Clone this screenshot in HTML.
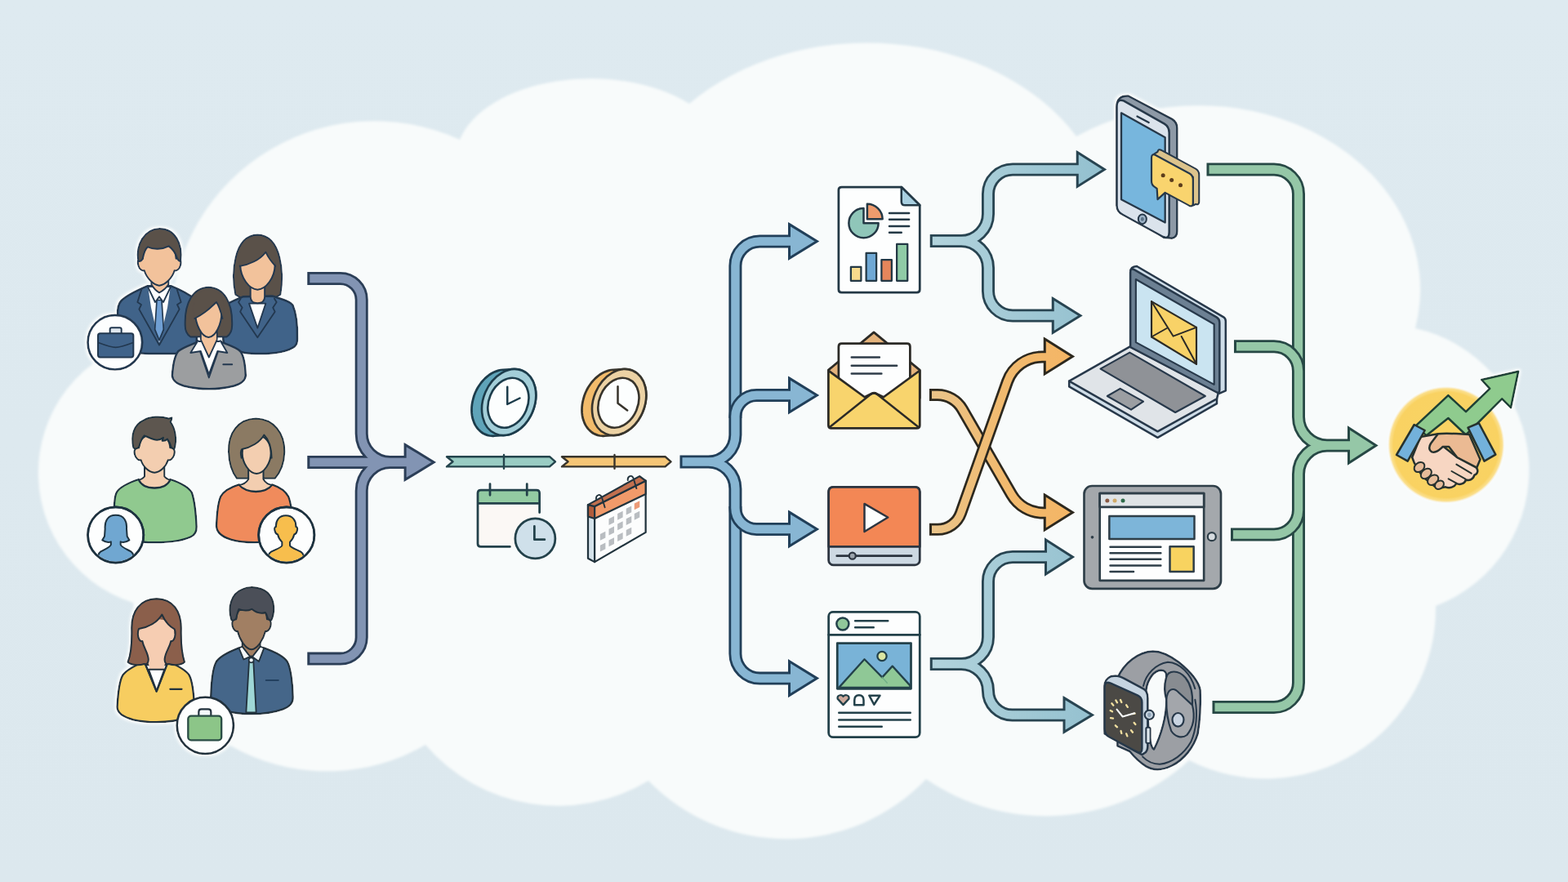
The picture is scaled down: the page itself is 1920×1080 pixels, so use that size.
<!DOCTYPE html>
<html lang="en"><head><meta charset="utf-8"><title>Workflow diagram</title>
<style>
html,body{margin:0;padding:0;background:#dde9ef;font-family:"Liberation Sans",sans-serif}
body{width:1920px;height:1080px;overflow:hidden}
svg{display:block}
</style></head><body>
<svg width="1920" height="1080" viewBox="0 0 1920 1080" role="img" aria-label="Workflow diagram: teams feed a schedule, content is distributed to devices and ends in a deal">
<defs><filter id="halo" x="-10%" y="-10%" width="120%" height="120%"><feMorphology in="SourceAlpha" operator="dilate" radius="2.2" result="d"/><feGaussianBlur in="d" stdDeviation="1.6" result="b"/><feFlood flood-color="#f9fcfc" result="c"/><feComposite in="c" in2="b" operator="in" result="g"/><feMerge><feMergeNode in="g"/><feMergeNode in="SourceGraphic"/></feMerge></filter></defs>
<defs>
<linearGradient id="bgG" x1="0" y1="0" x2="0" y2="1"><stop offset="0" stop-color="#deeaf0"/><stop offset="1" stop-color="#dce8ee"/></linearGradient>
<filter id="soft" x="-5%" y="-5%" width="110%" height="110%"><feGaussianBlur stdDeviation="1.6"/></filter>
</defs>
<rect width="1920" height="1080" fill="url(#bgG)"/>
<path id="cloud" d="M163 738A167 167 0 0 1 209 412A250 250 0 0 1 563 171A165 97 0 0 1 844 127A296 230 0 0 1 1318 167A271 225 0 0 1 1733 402A178 178 0 0 1 1758 742A208 208 0 0 1 1456 931A260 260 0 0 1 1134 954A236 236 0 0 1 794 956A214 214 0 0 1 521 912A240 240 0 0 1 163 738Z" fill="#f8fbfb" filter="url(#soft)"/>
<defs><linearGradient id="tealG" gradientUnits="userSpaceOnUse" x1="1138" y1="0" x2="1350" y2="0"><stop offset="0" stop-color="#b2d3dc"/><stop offset="1" stop-color="#93c0cf"/></linearGradient><linearGradient id="oraG" gradientUnits="userSpaceOnUse" x1="1138" y1="0" x2="1316" y2="0"><stop offset="0" stop-color="#e9c48a"/><stop offset="0.5" stop-color="#f1ba6f"/><stop offset="1" stop-color="#f4b565"/></linearGradient></defs>
<g id="pipe-purple" fill="none" stroke-linejoin="round">
<path d="M376.3 341 H416.5 A26 26 0 0 1 442.7 367 V531 A35 35 0 0 0 477.7 566 H499 M376.3 566 H499 M376.3 806.6 H416.5 A26 26 0 0 0 442.7 780.6 V601 A35 35 0 0 1 477.7 566 H499" stroke="#2b3e57" stroke-width="16"/>
<path d="M496.1 544.6 L531.15 566 L496.1 587.4Z" fill="#8294b3" stroke="#2b3e57" stroke-width="3" stroke-linejoin="miter"/>
<path d="M379.3 341 H416.5 A26 26 0 0 1 442.7 367 V531 A35 35 0 0 0 477.7 566 H499 M379.3 566 H499 M379.3 806.6 H416.5 A26 26 0 0 0 442.7 780.6 V601 A35 35 0 0 1 477.7 566 H499" stroke="#8294b3" stroke-width="10.4"/>
</g>
<g id="pipe-blue-trunk" fill="none" stroke-linejoin="round">
<path d="M969 295.5 H930.4 A30 30 0 0 0 900.4 325.5 V512 M969 830.6 H930.4 A30 30 0 0 1 900.4 800.6 V620" stroke="#213f59" stroke-width="16"/>
<path d="M966.5 274.6 L1000.4 295.5 L966.5 316.4Z" fill="#88b6d3" stroke="#213f59" stroke-width="3" stroke-linejoin="miter"/>
<path d="M966.5 809.7 L1000.4 830.6 L966.5 851.5Z" fill="#88b6d3" stroke="#213f59" stroke-width="3" stroke-linejoin="miter"/>
<path d="M969 295.5 H930.4 A30 30 0 0 0 900.4 325.5 V512 M969 830.6 H930.4 A30 30 0 0 1 900.4 800.6 V620" stroke="#88b6d3" stroke-width="10.4"/>
</g>
<g id="pipe-blue-mid" fill="none" stroke-linejoin="round">
<path d="M832.5 565.5 H867.4 A33 33 0 0 0 900.4 532.5 V510 A26 26 0 0 1 926.4 484 H969 M832.5 565.5 H867.4 A33 33 0 0 1 900.4 598.5 V622 A26 26 0 0 0 926.4 648 H969" stroke="#213f59" stroke-width="16"/>
<path d="M966.5 463.1 L1000.4 484 L966.5 504.9Z" fill="#88b6d3" stroke="#213f59" stroke-width="3" stroke-linejoin="miter"/>
<path d="M966.5 627.1 L1000.4 648 L966.5 668.9Z" fill="#88b6d3" stroke="#213f59" stroke-width="3" stroke-linejoin="miter"/>
<path d="M835.5 565.5 H867.4 A33 33 0 0 0 900.4 532.5 V510 A26 26 0 0 1 926.4 484 H969 M835.5 565.5 H867.4 A33 33 0 0 1 900.4 598.5 V622 A26 26 0 0 0 926.4 648 H969" stroke="#88b6d3" stroke-width="10.4"/>
</g>
<g id="pipe-teal" fill="none" stroke-linejoin="round">
<path d="M1138.75 295 H1177 A33 33 0 0 0 1210 262 V237.5 A30 30 0 0 1 1240 207.5 H1322 M1138.75 295 H1177 A33 33 0 0 1 1210 328 V356.5 A30 30 0 0 0 1240 386.5 H1292 M1138.75 813 H1177 A33 33 0 0 0 1210 780 V712 A30 30 0 0 1 1240 682 H1283 M1138.75 813 H1177 A33 33 0 0 1 1210 846 V846 A29.5 29.5 0 0 0 1239.5 875.5 H1306" stroke="#284451" stroke-width="16"/>
<path d="M1319.25 186.6 L1352.4 207.5 L1319.25 228.4Z" fill="url(#tealG)" stroke="#284451" stroke-width="3" stroke-linejoin="miter"/>
<path d="M1289.25 365.6 L1322.9 386.5 L1289.25 407.4Z" fill="url(#tealG)" stroke="#284451" stroke-width="3" stroke-linejoin="miter"/>
<path d="M1280.5 661.1 L1313.4 682 L1280.5 702.9Z" fill="url(#tealG)" stroke="#284451" stroke-width="3" stroke-linejoin="miter"/>
<path d="M1303 854.6 L1337.4 875.5 L1303 896.4Z" fill="url(#tealG)" stroke="#284451" stroke-width="3" stroke-linejoin="miter"/>
<path d="M1141.75 295 H1177 A33 33 0 0 0 1210 262 V237.5 A30 30 0 0 1 1240 207.5 H1322 M1141.75 295 H1177 A33 33 0 0 1 1210 328 V356.5 A30 30 0 0 0 1240 386.5 H1292 M1141.75 813 H1177 A33 33 0 0 0 1210 780 V712 A30 30 0 0 1 1240 682 H1283 M1141.75 813 H1177 A33 33 0 0 1 1210 846 V846 A29.5 29.5 0 0 0 1239.5 875.5 H1306" stroke="url(#tealG)" stroke-width="10.4"/>
</g>
<g id="pipe-orangeA" fill="none" stroke-linejoin="round">
<path d="M1138 483.5 H1148.0 A35 35 0 0 1 1178.3 501.0 L1238.6 605.5 A45 45 0 0 0 1277.6 628.0 H1282.0" stroke="#2c281e" stroke-width="15"/>
<path d="M1279.25 606.1 L1313.4 627.5 L1279.25 648.9Z" fill="url(#oraG)" stroke="#2c281e" stroke-width="3" stroke-linejoin="miter"/>
<path d="M1141 483.5 H1148.0 A35 35 0 0 1 1178.3 501.0 L1238.6 605.5 A45 45 0 0 0 1277.6 628.0 H1282.0" stroke="url(#oraG)" stroke-width="9.6"/>
</g>
<g id="pipe-orangeB" fill="none" stroke-linejoin="round">
<path d="M1138 648.3 H1148.2 A30 30 0 0 0 1176.5 628.3 L1233.6 467.0 A45 45 0 0 1 1276.0 437.0 H1282.0" stroke="#2c281e" stroke-width="15"/>
<path d="M1279.25 415.1 L1313.4 436.5 L1279.25 457.9Z" fill="url(#oraG)" stroke="#2c281e" stroke-width="3" stroke-linejoin="miter"/>
<path d="M1141 648.3 H1148.2 A30 30 0 0 0 1176.5 628.3 L1233.6 467.0 A45 45 0 0 1 1276.0 437.0 H1282.0" stroke="url(#oraG)" stroke-width="9.6"/>
</g>
<g id="pipe-green-trunk" fill="none" stroke-linejoin="round">
<path d="M1477.5 207.5 H1560 A30 30 0 0 1 1590 237.5 V460 M1484.5 866 H1560 A30 30 0 0 0 1590 836 V620" stroke="#274845" stroke-width="16"/>
<path d="M1480.5 207.5 H1560 A30 30 0 0 1 1590 237.5 V460 M1487.5 866 H1560 A30 30 0 0 0 1590 836 V620" stroke="#95c7a7" stroke-width="10.4"/>
</g>
<g id="pipe-green-mid" fill="none" stroke-linejoin="round">
<path d="M1511 424.3 H1560 A30 30 0 0 1 1590 454.3 V510.5 A35 35 0 0 0 1625 545.5 H1654 M1507 654.5 H1560 A30 30 0 0 0 1590 624.5 V580.5 A35 35 0 0 1 1625 545.5 H1654" stroke="#274845" stroke-width="16"/>
<path d="M1651.5 524.1 L1684.9 545.5 L1651.5 566.9Z" fill="#95c7a7" stroke="#274845" stroke-width="3" stroke-linejoin="miter"/>
<path d="M1514 424.3 H1560 A30 30 0 0 1 1590 454.3 V510.5 A35 35 0 0 0 1625 545.5 H1654 M1510 654.5 H1560 A30 30 0 0 0 1590 624.5 V580.5 A35 35 0 0 1 1625 545.5 H1654" stroke="#95c7a7" stroke-width="10.4"/>
</g>
<g filter="url(#halo)">
<g id="people-business" transform="translate(90,270) scale(0.166667)" stroke="#22374f" stroke-width="15" stroke-linejoin="round" stroke-linecap="round">
<!-- man in suit -->
<path d="M540 482C470 512 385 555 352 588C326 614 322 650 325 700L328 880C335 930 400 962 500 975C540 978 590 978 630 978L905 978L905 585C860 550 785 508 720 482Z" fill="#416389"/>
<path d="M548 492L630 560L712 492L690 640L630 900L570 640Z" fill="#fdfefe" stroke="none"/>
<path d="M612 585L648 585L662 800L630 880L598 800Z" fill="#6f9fd3" stroke-width="10"/>
<path d="M548 492L600 600L630 560L660 600L712 492" fill="#fdfefe" stroke-width="11"/>
<path d="M500 505L470 600L498 618L482 652L630 915L778 652L762 618L790 600L760 505" fill="none" stroke-width="11"/>
<path d="M572 410L572 470C590 500 610 520 630 530C655 518 680 498 698 470L698 410Z" fill="#f2c29b" stroke-width="12"/>
<path d="M508 280C480 270 466 295 476 330C484 360 505 372 520 368C535 420 585 475 630 478C675 475 728 420 742 368C757 372 778 360 786 330C796 295 782 270 754 280C750 200 700 160 630 160C560 160 512 200 508 280Z" fill="#f2c29b" stroke-width="12"/>
<path d="M476 300C455 180 520 62 632 60C745 60 805 170 786 300C772 296 762 282 756 262C745 232 726 208 700 188C650 214 585 214 546 194C522 214 514 250 508 282C498 298 488 302 476 300Z" fill="#5a5149" stroke-width="12"/>
<!-- woman long hair -->
<path d="M1190 545C1160 400 1170 110 1352 105C1535 110 1545 400 1520 545C1450 600 1260 600 1190 545Z" fill="#5a5149" stroke-width="12"/>
<path d="M1245 560C1180 585 1130 605 1108 630C1092 655 1096 700 1098 760L1100 880C1105 930 1160 955 1260 972C1300 978 1340 978 1372 978C1460 978 1570 965 1625 925C1640 912 1644 890 1644 870C1646 790 1640 690 1610 620C1590 590 1520 575 1460 555Z" fill="#416389"/>
<path d="M1290 610L1412 610L1352 790Z" fill="#fdfefe" stroke-width="11"/>
<path d="M1228 575L1212 600L1240 640L1225 670L1352 860L1480 670L1465 640L1492 600L1476 575" fill="none" stroke-width="11"/>
<path d="M1300 470L1300 560C1300 590 1320 608 1352 608C1385 608 1405 590 1405 560L1405 470Z" fill="#f2c29b" stroke-width="12"/>
<path d="M1225 330C1228 420 1290 505 1352 508C1415 505 1478 420 1480 330C1482 240 1440 190 1352 190C1265 190 1222 240 1225 330Z" fill="#f2c29b" stroke-width="12"/>
<path d="M1222 335C1200 230 1240 125 1352 120C1465 125 1505 230 1484 335C1460 310 1430 270 1412 232C1370 290 1290 325 1222 335Z" fill="#5a5149" stroke="none"/><path d="M1222 335C1290 325 1370 290 1412 232C1430 270 1460 310 1484 335" fill="none" stroke-width="11"/>
</g>
<g id="people-business-2" transform="translate(90,380) scale(0.166667)" stroke="#22374f" stroke-width="15" stroke-linejoin="round" stroke-linecap="round">
<!-- middle woman: hair back, body, face, hair front -->
<path d="M820 110C815 -60 880 -168 992 -170C1105 -168 1170 -60 1165 110C1165 150 1150 180 1125 195L860 195C835 180 820 150 820 110Z" fill="#5a5149" stroke-width="12"/>
<path d="M725 480C730 400 745 330 770 300C800 275 850 258 905 235L1090 235C1150 258 1200 275 1225 300C1250 330 1262 400 1265 480C1262 520 1230 540 1180 555C1110 572 1050 578 995 578C940 578 880 572 810 555C760 540 728 520 725 480Z" fill="#9c9ea0"/>
<path d="M905 228L995 495L1088 228Z" fill="#fdfefe" stroke-width="11"/>
<path d="M935 150L935 215L995 345L1055 215L1055 150Z" fill="#f2c29b" stroke-width="11"/>
<path d="M915 222L860 312L935 300L995 470M1078 222L1130 312L1058 300L995 470" fill="#fdfefe" stroke-width="11"/>
<path d="M1100 398L1165 398" fill="none" stroke-width="12"/>
<path d="M895 20C895 100 940 195 992 198C1045 195 1088 100 1088 20C1088 -40 1050 -80 992 -80C935 -80 895 -40 895 20Z" fill="#f2c29b" stroke-width="12"/>
<path d="M890 60C862 -50 900 -150 992 -155C1090 -150 1128 -50 1095 60C1085 20 1070 -30 1050 -60C1000 -10 950 30 890 60Z" fill="#5a5149" stroke="none"/><path d="M890 60C950 30 1000 -10 1050 -60C1070 -30 1085 20 1095 60" fill="none" stroke-width="11"/>
<!-- briefcase badge -->
<circle cx="305" cy="235" r="200" fill="#fdfefe" stroke-width="16"/>
<path d="M268 170L268 140Q268 128 280 128L340 128Q352 128 352 140L352 170" fill="#dfe7ee" stroke-width="12"/>
<rect x="180" y="170" width="260" height="175" rx="16" fill="#41648a" stroke-width="12"/>
<path d="M186 238C250 262 290 272 310 272C330 272 370 262 434 238" fill="none" stroke-width="10"/>
</g>
</g>
<g filter="url(#halo)">
<g id="people-casual" transform="translate(90,500) scale(0.166667)" stroke="#1f3340" stroke-width="14" stroke-linejoin="round" stroke-linecap="round">
<!-- man green tee -->
<path d="M478 522C410 545 340 580 318 615C298 650 297 720 300 800L303 870C308 925 350 950 420 968C480 982 540 985 600 985C700 985 800 972 860 945C895 930 905 905 904 870C900 780 890 680 870 620C850 585 790 548 712 522C690 570 640 585 595 585C550 585 500 570 478 522Z" fill="#90c98f"/>
<path d="M522 420L522 500C505 518 492 524 480 524C500 570 550 583 595 583C640 583 690 570 710 524C698 524 685 518 668 500L668 420Z" fill="#f3ceb0" stroke-width="12"/>
<path d="M480 290C455 285 440 310 450 340C458 370 480 385 495 380C510 430 555 470 595 472C635 470 680 430 695 380C710 385 732 370 740 340C750 310 735 285 710 290C705 220 660 190 595 190C530 190 485 220 480 290Z" fill="#f3ceb0" stroke-width="12"/>
<path d="M440 290C420 200 440 120 520 85C560 60 640 55 700 75L722 68C722 85 716 95 712 100C750 150 760 230 742 295C735 300 722 295 715 280C712 260 705 245 690 225C680 235 665 240 652 238L660 215C640 230 610 235 590 228C560 220 535 205 520 200C500 220 490 250 482 280C470 300 450 300 440 290Z" fill="#5d574f" stroke-width="12"/>
<!-- woman orange top -->
<path d="M1340 75C1210 78 1135 180 1140 320C1142 400 1165 470 1200 515L1480 515C1520 470 1548 400 1550 320C1552 180 1470 78 1340 75Z" fill="#8b7a64" stroke-width="12"/>
<path d="M1215 560C1150 580 1100 610 1080 650C1060 700 1052 800 1050 865C1052 915 1090 945 1160 965C1220 982 1280 985 1330 985C1400 985 1480 978 1545 955C1595 938 1612 910 1610 865C1610 800 1600 700 1580 650C1560 610 1520 580 1460 560C1430 600 1380 612 1340 612C1300 612 1250 600 1215 560Z" fill="#f08b5b"/>
<path d="M1285 440L1285 520C1270 545 1240 560 1215 562C1250 600 1300 610 1340 610C1380 610 1430 600 1460 562C1435 560 1410 545 1395 520L1395 440Z" fill="#f3ceb0" stroke-width="12"/>
<path d="M1240 330C1240 400 1290 478 1345 480C1400 478 1450 400 1450 330C1450 250 1410 200 1345 200C1280 200 1240 250 1240 330Z" fill="#f3ceb0" stroke-width="12"/>
<path d="M1400 195C1370 250 1300 290 1238 300C1228 310 1228 340 1234 365C1190 310 1195 200 1250 140C1290 100 1370 95 1420 130C1480 170 1492 270 1456 365C1455 290 1435 230 1400 195Z" fill="#8b7a64" stroke="none"/><path d="M1234 365C1228 340 1228 310 1238 300C1300 290 1370 250 1400 195C1435 230 1455 290 1456 365" fill="none" stroke-width="11"/>
</g>
<defs><clipPath id="bc1"><circle cx="310" cy="390" r="196"/></clipPath><clipPath id="bc2"><circle cx="1565" cy="390" r="196"/></clipPath></defs>
<g id="people-badges" transform="translate(90,590) scale(0.166667)" stroke="#1f3340" stroke-width="14" stroke-linejoin="round" stroke-linecap="round">
<circle cx="310" cy="390" r="205" fill="#fdfefe" stroke-width="16"/>
<g clip-path="url(#bc1)"><path d="M310 245C250 245 228 290 232 345L228 400L212 428C232 442 258 446 275 440L275 462C268 482 228 496 200 512C182 524 176 545 172 620L450 620C446 545 440 524 422 512C394 496 354 482 346 462L346 440C364 446 390 442 410 428L394 400L390 345C394 290 372 245 310 245Z" fill="#6fa7d1" stroke-width="12"/></g>
<circle cx="310" cy="390" r="205" fill="none" stroke-width="16"/>
<circle cx="1565" cy="390" r="205" fill="#fdfefe" stroke-width="16"/>
<g clip-path="url(#bc2)"><path d="M1560 248C1510 248 1485 285 1488 330C1478 330 1474 345 1480 362C1484 378 1492 386 1500 386C1506 410 1518 430 1532 442L1532 468C1525 486 1480 498 1452 514C1432 526 1426 545 1422 620L1700 620C1696 545 1690 526 1670 514C1642 498 1598 486 1590 468L1590 442C1604 430 1616 410 1622 386C1630 386 1638 378 1642 362C1648 345 1644 330 1634 330C1636 285 1610 248 1560 248Z" fill="#f7be4d" stroke-width="12"/></g>
<circle cx="1565" cy="390" r="205" fill="none" stroke-width="16"/>
</g>
</g>
<g filter="url(#halo)">
<g id="people-staff" transform="translate(90,710) scale(0.166667)" stroke="#22303c" stroke-width="14" stroke-linejoin="round" stroke-linecap="round">
<!-- woman yellow top -->
<path d="M610 140C490 142 425 230 428 360C430 450 425 540 400 604C480 635 740 635 815 604C795 540 788 450 790 360C792 230 730 142 610 140Z" fill="#8b5f4b" stroke-width="12"/>
<path d="M520 600C450 630 390 660 362 700C335 745 325 860 321 935C322 985 370 1010 440 1028C500 1042 560 1045 610 1045C690 1045 770 1035 830 1012C875 995 892 975 888 935C885 860 875 745 850 700C825 660 765 630 695 600L610 820Z" fill="#f7cd60"/>
<path d="M552 658L668 658L610 815Z" fill="#fdfefe" stroke-width="11"/>
<path d="M548 520L548 600L560 655L662 655L676 600L676 520Z" fill="#f6cdb2" stroke="none"/>
<path d="M520 600L610 820L695 600" fill="none" stroke-width="12"/>
<path d="M552 658L668 658" fill="none" stroke-width="11"/>
<path d="M478 395C470 330 520 290 610 290C700 290 748 330 740 395C748 400 748 420 735 440C728 450 722 452 716 450C705 500 670 540 660 580L560 580C550 540 516 500 505 450C498 452 490 450 484 440C472 420 470 400 478 395Z" fill="#f6cdb2" stroke="none"/>
<path d="M650 255C610 320 540 350 480 360C470 380 470 420 484 440C492 452 500 452 506 450C515 500 545 530 550 580C552 600 545 624 520 618C480 630 425 628 400 604C425 540 430 450 428 360C425 230 490 142 610 140C730 142 792 230 790 360C788 450 795 540 815 604C790 628 735 630 700 618C676 624 668 600 670 580C675 530 705 500 716 450C722 452 730 450 736 440C750 420 750 380 742 362C700 340 670 300 650 255Z" fill="#8b5f4b" stroke-width="12"/>
<path d="M710 803L795 803" fill="none" stroke-width="13"/>
<!-- man blue shirt -->
<path d="M1215 500C1150 525 1080 555 1050 600C1025 640 1012 760 1009 860C1010 910 1050 940 1120 962C1190 982 1250 985 1310 985C1390 985 1470 975 1540 950C1595 930 1614 900 1612 860C1610 760 1595 640 1570 600C1540 555 1470 525 1400 500Z" fill="#446689"/>
<path d="M1290 600L1322 600L1342 975L1268 975Z" fill="#9fd7d6" stroke-width="11"/>
<path d="M1240 420L1240 500C1260 540 1285 565 1306 575C1330 565 1355 540 1372 500L1372 420Z" fill="#a17f64" stroke-width="12"/>
<path d="M1215 500L1250 585L1306 560L1362 600L1400 500L1372 490L1306 575L1240 490Z" fill="#f4f8fa" stroke-width="11"/>
<circle cx="1306" cy="590" r="18" fill="#f4f8fa" stroke-width="10"/>
<path d="M1195 290C1172 285 1160 310 1168 340C1175 368 1192 382 1206 378C1220 440 1265 510 1308 512C1350 510 1395 440 1410 378C1424 382 1442 368 1448 340C1456 310 1445 285 1422 290C1418 220 1375 190 1308 190C1242 190 1198 220 1195 290Z" fill="#a17f64" stroke-width="12"/>
<path d="M1160 295C1130 200 1160 100 1240 70C1300 40 1400 55 1440 110C1480 160 1478 240 1455 295C1445 300 1432 292 1426 278C1422 262 1418 250 1410 240C1380 250 1340 240 1310 215C1280 230 1240 225 1215 215C1205 235 1200 260 1196 282C1186 298 1170 300 1160 295Z" fill="#4b4f58" stroke-width="12"/>
<path d="M1415 738L1505 738" fill="none" stroke="#23405e" stroke-width="12"/>
</g>
<g id="people-staff-badge" transform="translate(90,790) scale(0.166667)" stroke="#22303c" stroke-width="14" stroke-linejoin="round" stroke-linecap="round">
<circle cx="968" cy="590" r="208" fill="#fdfefe" stroke-width="16"/>
<path d="M920 520L920 490Q920 470 940 470L990 470Q1010 470 1010 490L1010 520" fill="#f4f8fa" stroke-width="13"/>
<rect x="842" y="520" width="245" height="178" rx="22" fill="#8cc588" stroke="#2a4d45" stroke-width="14"/>
</g>
</g>
<g id="clocks" transform="translate(560,440) scale(0.125)" stroke-linejoin="round">
<path d="M140 496 L141 468 L144 440 L149 412 L156 384 L164 356 L175 328 L187 302 L201 276 L217 252 L234 228 L252 207 L271 187 L292 169 L313 152 L335 138 L358 126 L381 117 L404 109 L427 104 L450 102 L550 96 L572 96 L594 98 L616 103 L636 111 L656 120 L674 132 L691 147 L707 163 L721 181 L734 201 L745 223 L753 246 L761 270 L766 296 L769 323 L770 350 L769 378 L766 406 L761 434 L754 462 L746 490 L735 518 L723 544 L709 570 L693 594 L676 618 L658 639 L639 659 L618 677 L597 694 L575 708 L552 720 L529 729 L506 737 L483 742 L460 744 L360 750 L338 750 L316 748 L294 743 L274 735 L254 726 L236 714 L219 699 L203 683 L189 665 L176 645 L165 623 L157 600 L149 576 L144 550 L141 523Z" fill="#5fa4b9" stroke="#1c3c4b" stroke-width="22"/><ellipse cx="505" cy="420" rx="250" ry="336" transform="rotate(23 505 420)" fill="#a3ced8" stroke="#1c3c4b" stroke-width="21"/><ellipse cx="499" cy="426" rx="190" ry="252" transform="rotate(23 499 426)" fill="#fcfefe" stroke="#1c3c4b" stroke-width="21"/><path d="M490 270L490 440L612 380" fill="none" stroke="#1c3c4b" stroke-width="20" stroke-linecap="round" stroke-linejoin="round"/>
<path d="M1220 496 L1221 468 L1224 440 L1229 412 L1236 384 L1244 356 L1255 328 L1267 302 L1281 276 L1297 252 L1314 228 L1332 207 L1351 187 L1372 169 L1393 152 L1415 138 L1438 126 L1461 117 L1484 109 L1507 104 L1530 102 L1630 96 L1652 96 L1674 98 L1696 103 L1716 111 L1736 120 L1754 132 L1771 147 L1787 163 L1801 181 L1814 201 L1825 223 L1833 246 L1841 270 L1846 296 L1849 323 L1850 350 L1849 378 L1846 406 L1841 434 L1834 462 L1826 490 L1815 518 L1803 544 L1789 570 L1773 594 L1756 618 L1738 639 L1719 659 L1698 677 L1677 694 L1655 708 L1632 720 L1609 729 L1586 737 L1563 742 L1540 744 L1440 750 L1418 750 L1396 748 L1374 743 L1354 735 L1334 726 L1316 714 L1299 699 L1283 683 L1269 665 L1256 645 L1245 623 L1237 600 L1229 576 L1224 550 L1221 523Z" fill="#f2bb6b" stroke="#37342c" stroke-width="22"/><ellipse cx="1585" cy="420" rx="250" ry="336" transform="rotate(23 1585 420)" fill="#ecd2a4" stroke="#37342c" stroke-width="21"/><ellipse cx="1579" cy="426" rx="190" ry="252" transform="rotate(23 1579 426)" fill="#fcfefe" stroke="#37342c" stroke-width="21"/><path d="M1572 265L1572 430L1665 500" fill="none" stroke="#37342c" stroke-width="20" stroke-linecap="round" stroke-linejoin="round"/>
</g>
<g id="timeline" stroke-width="2.4" stroke-linejoin="round" stroke-linecap="round">
<path d="M547 559.2L673 559.2L680 565.3L673 571.4L547 571.4L554.5 565.3Z" fill="#99ccc3" stroke="#24444c"/>
<path d="M617 557V573.8" stroke="#24444c" fill="none"/>
<path d="M688 559.2L814.5 559.2L821.5 565.3L814.5 571.4L688 571.4L695.5 565.3Z" fill="#f6c676" stroke="#37342c"/>
<path d="M752.5 557V573.8" stroke="#37342c" fill="none"/>
</g>
<g id="calendar-clock" transform="translate(530,545) scale(0.125)" stroke="#23414a" stroke-width="22" stroke-linejoin="round" stroke-linecap="round">
<path d="M440 570L440 470Q440 440 470 440L1015 440Q1045 440 1045 470L1045 570Z" fill="#93cba2" stroke="none"/>
<path d="M440 570L1045 570L1045 995L440 995Z" fill="#fbf8f5" stroke="none"/>
<path d="M755 995L470 995Q440 995 440 965L440 470Q440 440 470 440L1015 440Q1045 440 1045 470L1045 660M440 570L1045 570M560 380L560 490M922 380L922 490" fill="none"/>
<circle cx="1003" cy="915" r="196" fill="#cfe0ea"/>
<path d="M995 795L995 925L1095 925" fill="none"/>
</g>
<g id="calendar-iso" transform="translate(660,570) scale(0.125)" stroke="#21333d" stroke-width="18" stroke-linejoin="round" stroke-linecap="round">
<path d="M480 385L545 400L545 945L480 910Z" fill="#d5e3eb"/>
<path d="M480 385L545 400L545 520L480 500Z" fill="#b05c3c"/>
<path d="M545 400L1045 150L1045 655L545 945Z" fill="#fcfdfd"/>
<path d="M545 400L1045 150L1045 280L545 520Z" fill="#f09a6a"/>
<path d="M480 385L985 105L1045 150L545 400Z" fill="#c2704f"/>
<path d="M684 522 L736 496 L736 558 L684 584Z M769 472 L821 446 L821 508 L769 534Z M854 422 L906 396 L906 458 L854 484Z M599 672 L651 646 L651 708 L599 734Z M684 622 L736 596 L736 658 L684 684Z M769 572 L821 546 L821 608 L769 634Z M854 522 L906 496 L906 558 L854 584Z M934 472 L986 446 L986 508 L934 534Z M599 782 L651 756 L651 818 L599 844Z M684 732 L736 706 L736 768 L684 794Z M769 682 L821 656 L821 718 L769 744Z M854 632 L906 606 L906 668 L854 694Z" fill="#b9bdc1" stroke="none"/>
<path d="M934 372 L986 346 L986 408 L934 434Z" fill="#ec9b78" stroke="none"/>
<path d="M560 330C555 290 600 270 615 310L645 410M870 145C865 105 910 85 925 125L955 225" fill="none" stroke-width="15"/>
</g>
<g id="icon-report" transform="translate(960,220) scale(0.125)" stroke="#233845" stroke-width="22" stroke-linejoin="round" stroke-linecap="round">
<path d="M565 72L1150 72L1330 250L1330 1075Q1330 1104 1300 1104L565 1104Q535 1104 535 1075L535 100Q535 72 565 72Z" fill="#fdfefe"/>
<path d="M1150 72L1150 215Q1150 250 1185 250L1330 250Z" fill="#a8cfe0" stroke-width="20"/>
<path d="M780 280A145 145 0 1 0 925 425L780 425Z" fill="#8fc6b9" stroke-width="20"/>
<path d="M815 238A150 150 0 0 1 965 385L815 385Z" fill="#ee9b6d" stroke-width="20"/>
<path d="M1032 328H1225M1032 390H1225M1032 455H1225M1032 517H1150" fill="none" stroke-width="20"/>
<rect x="655" y="855" width="100" height="135" fill="#f8da8c" stroke-width="18"/>
<rect x="805" y="718" width="100" height="272" fill="#6fa8d4" stroke-width="18"/>
<rect x="955" y="785" width="100" height="205" fill="#e5865b" stroke-width="18"/>
<rect x="1105" y="630" width="105" height="360" fill="#8fcba6" stroke-width="18"/>
</g>
<g id="icon-envelope" transform="translate(960,400) scale(0.125)" stroke="#2b2a26" stroke-width="22" stroke-linejoin="round" stroke-linecap="round">
<path d="M435 425L880 55L1330 425L1330 700L435 700Z" fill="#e4b37c"/>
<path d="M565 165L1205 165Q1235 165 1235 195L1235 720L535 720L535 195Q535 165 565 165Z" fill="#fdfefe"/>
<path d="M662 300H935M662 382H1105M662 460H955" fill="none" stroke="#2f3d49" stroke-width="20"/>
<path d="M435 430L790 690L850 660Q880 640 912 660L975 690L1330 430L1330 965Q1330 995 1300 995L465 995Q435 995 435 965Z" fill="#f8d46d"/>
<path d="M455 978L850 662Q880 640 912 662L1310 978" fill="none" stroke-width="20"/>
</g>
<g id="icon-video" transform="translate(960,570) scale(0.125)" stroke="#2c3540" stroke-width="22" stroke-linejoin="round" stroke-linecap="round">
<rect x="437" y="210" width="893" height="765" rx="48" fill="#cdd9e3"/>
<path d="M437 795L437 258Q437 210 485 210L1282 210Q1330 210 1330 258L1330 795Z" fill="#f38755"/>
<path d="M788 375L1018 508L788 648Z" fill="#fdfefe" stroke-width="20"/>
<path d="M518 885H1248" fill="none"/>
<circle cx="670" cy="885" r="32" fill="#9aa3ab" stroke-width="18"/>
</g>
<g id="icon-post" transform="translate(960,740) scale(0.125)" stroke="#23414a" stroke-width="22" stroke-linejoin="round" stroke-linecap="round">
<rect x="437" y="75" width="893" height="1225" rx="42" fill="#fdfefe"/>
<path d="M437 298H1330" fill="none"/>
<circle cx="575" cy="192" r="60" fill="#90c79a" stroke-width="20"/>
<path d="M697 162H1018M697 225H878" fill="none" stroke-width="20"/>
<rect x="522" y="380" width="722" height="446" fill="#79b3d7" stroke-width="22"/>
<path d="M538 815L788 538L962 715L1062 605L1235 795L1235 815Z" fill="#8fc896" stroke-width="18"/>
<path d="M962 715L1010 770" fill="none" stroke-width="12" stroke="#6fae86"/>
<circle cx="960" cy="508" r="45" fill="#dbe6a2" stroke-width="18"/>
<path d="M580 985L525 925Q520 895 550 890Q570 888 580 902Q592 888 612 890Q640 895 636 925Z" fill="#cdaa9c" stroke-width="18"/>
<path d="M690 985L690 940Q690 890 735 890Q780 890 780 940L780 985Z" fill="#fdfefe" stroke-width="20"/>
<path d="M835 893L940 893L882 982Z" fill="#fdfefe" stroke-width="20"/>
<path d="M538 1062H1238M538 1132H1238M538 1198H958" fill="none" stroke-width="20"/>
</g>
<g filter="url(#halo)">
<g id="icon-phone" transform="translate(1260,110) scale(0.166667)" stroke="#27384a" stroke-width="15" stroke-linejoin="round" stroke-linecap="round">
<path d="M645 850L645 125Q645 40 730 45L1052 215Q1088 238 1088 280L1088 1040Q1088 1085 1050 1090L990 1085Z" fill="#8d99a6"/>
<path d="M645 125Q645 62 695 80L995 250Q1030 272 1030 315L1030 1045Q1030 1100 985 1080L690 918Q645 895 645 850Z" fill="#dbe3ec"/>
<path d="M678 170L1000 350L1000 975L678 805Z" fill="#77b6dd" stroke-width="14"/>
<path d="M795 195L880 240" fill="none" stroke-width="14"/>
<ellipse cx="833" cy="950" rx="30" ry="35" fill="#9fb4c8" stroke-width="12"/>
<ellipse cx="833" cy="950" rx="12" ry="15" fill="#5c7388" stroke="none"/>
<path d="M945 455Q950 430 975 445L1225 580Q1250 595 1250 625L1250 820Q1250 850 1225 840L1205 850L1205 640L915 475Z" fill="#dcc38c" stroke-width="13"/>
<path d="M900 500Q900 465 930 480L1180 615Q1205 630 1205 660L1205 830Q1205 865 1175 850L1000 755L945 805L940 725L925 715Q900 700 900 670Z" fill="#f9d46e" stroke-width="13"/>
<circle cx="985" cy="628" r="15" fill="#5b3d1c" stroke="none"/>
<circle cx="1048" cy="663" r="15" fill="#5b3d1c" stroke="none"/>
<circle cx="1113" cy="700" r="15" fill="#5b3d1c" stroke="none"/>
</g>
</g>
<g id="icon-laptop" transform="translate(1270,310) scale(0.166667)" stroke="#27384a" stroke-width="15" stroke-linejoin="round" stroke-linecap="round">
<!-- base -->
<path d="M235 940L235 980L885 1355L1320 1105L1320 1070Z" fill="#cfdde8"/>
<path d="M235 940L685 685L1335 1010L1320 1070L885 1310Z" fill="#e0e4e8"/>
<path d="M465 850L680 730L1235 1050L1015 1170Z" fill="#8f9297" stroke-width="13"/>
<path d="M515 1050L610 995L780 1090L690 1150Z" fill="#9b9ea2" stroke-width="13"/>
<!-- lid -->
<path d="M685 690L685 140Q685 98 732 96L1370 470Q1385 480 1385 500L1385 1010L1340 1030Z" fill="#cfdde8"/>
<path d="M685 140Q685 105 715 122L1320 472Q1340 485 1340 510L1340 1005Q1340 1035 1315 1020L685 690Z" fill="#6c8093"/>
<path d="M725 192L1300 522L1300 965L725 655Z" fill="#cae4f1" stroke-width="13"/>
<path d="M840 355L1170 545L1170 815L840 615Z" fill="#f8d267" stroke="#2b2a26" stroke-width="13"/>
<path d="M840 355L1000 610L1170 545M840 615L952 552M1170 815L1060 612" fill="none" stroke="#2b2a26" stroke-width="12"/>
</g>
<g id="icon-tablet" transform="translate(1270,570) scale(0.166667)" stroke="#2e3e48" stroke-width="16" stroke-linejoin="round" stroke-linecap="round">
<rect x="345" y="150" width="1005" height="755" rx="58" fill="#a4a8ac"/>
<rect x="460" y="205" width="765" height="640" fill="#fdfefe"/>
<path d="M460 205H1225V305H460Z" fill="#dfe3e6"/>
<circle cx="515" cy="258" r="15" fill="#8a5a44" stroke="none"/>
<circle cx="570" cy="258" r="15" fill="#d0aa6a" stroke="none"/>
<circle cx="630" cy="258" r="15" fill="#2f6b4a" stroke="none"/>
<rect x="530" y="372" width="625" height="168" fill="#7db5d9" stroke-width="15"/>
<path d="M537 598H908M537 643H908M537 688H908M537 735H908M537 780H708" fill="none" stroke-width="15"/>
<rect x="975" y="595" width="175" height="185" fill="#f8d360" stroke-width="15"/>
<circle cx="405" cy="527" r="11" fill="#2e3e48" stroke="none"/>
<circle cx="1283" cy="523" r="30" fill="#d6dbdf" stroke-width="13"/>
</g>
<g filter="url(#halo)">
<g id="icon-watch" transform="translate(1270,770) scale(0.166667)" stroke="#27384a" stroke-width="15" stroke-linejoin="round" stroke-linecap="round">
<!-- band loop: outer shape with the see-through hole -->
<path d="M590 360C640 250 740 170 850 165C920 165 980 200 1040 245C1120 310 1185 380 1198 450C1202 560 1195 680 1180 770C1150 870 1080 960 990 1005C930 1035 860 1045 800 1010C760 985 720 950 680 900L590 860Z M800 470C800 400 840 322 895 306C935 298 955 320 948 360C932 420 935 470 950 520C950 640 912 780 858 885C825 870 810 700 810 510Z" fill="#9c9fa4" fill-rule="evenodd"/>
<!-- inner far side of band -->
<path d="M948 360C960 300 1040 300 1090 360C1130 410 1145 480 1140 560L1090 545C1040 480 990 440 950 520C935 470 932 420 948 360Z" fill="#888c91" stroke-width="13"/>
<!-- strap tail with pin -->
<path d="M950 520C955 440 1000 425 1040 468L1140 560C1160 640 1150 720 1100 780C1060 810 1010 790 985 750C960 680 948 600 950 520Z" fill="#a3a6ab" stroke-width="13"/>
<ellipse cx="1035" cy="668" rx="42" ry="50" fill="#c9d4e1" stroke-width="13"/>
<!-- band rim lines -->
<path d="M780 420C800 330 870 260 960 245C1050 250 1130 330 1160 440" fill="none" stroke-width="12"/>
<path d="M1160 520C1180 620 1170 740 1130 830C1080 920 990 985 900 995C850 995 810 975 775 940" fill="none" stroke-width="12"/>
<!-- case -->
<path d="M495 420Q495 370 540 350L575 345Q600 345 640 365L780 440Q812 458 812 505L812 860Q812 900 790 912L770 925L495 770Z" fill="#c6d4e0"/>
<path d="M495 430Q495 380 540 400L740 490Q770 505 770 540L770 880Q770 920 735 905L530 795Q495 775 495 735Z" fill="#4b4a45"/>
<circle cx="824" cy="632" r="34" fill="#c6d4e0" stroke-width="13"/>
<ellipse cx="824" cy="632" rx="13" ry="17" fill="#8fa3b6" stroke="none"/>
<rect x="800" y="725" width="32" height="115" rx="10" fill="#dfe8ef" stroke-width="12"/>
<g stroke="#f1dfa0" stroke-width="14" fill="none">
<path d="M612 522L620 540M655 560L665 575M700 625L718 622M712 690L722 702M690 745L702 760M655 770L662 788M615 750L620 768M575 710L588 722M540 655L558 658M538 600L552 608M548 548L560 562M578 525L588 542"/>
</g>
<path d="M585 592L628 645L715 620" fill="none" stroke="#fdfefe" stroke-width="12"/>
</g>
</g>
<g filter="url(#halo)">
<defs><radialGradient id="sunG" cx="0.5" cy="0.5" r="0.5"><stop offset="0" stop-color="#f9d465"/><stop offset="0.9" stop-color="#f9d262"/><stop offset="0.96" stop-color="#fbe08e"/><stop offset="1" stop-color="#fbe9b0" stop-opacity="0"/></radialGradient></defs>
<g id="icon-deal" transform="translate(1600,440) scale(0.166667)" stroke="#26302f" stroke-width="15" stroke-linejoin="round" stroke-linecap="round">
<circle cx="1025" cy="628" r="430" fill="url(#sunG)" stroke="none"/>
<path d="M800 490L1040 265L1170 385L1345 215L1285 150L1555 88L1500 355L1435 290L1170 555L1040 432L880 560Z" fill="#8fcb8e" stroke="#1f3f35"/>
<!-- left hand (light) -->
<path d="M835 570L965 548L1005 640L1105 720L1245 795C1265 815 1255 845 1232 850C1225 880 1195 895 1170 885C1160 915 1125 925 1100 912C1085 940 1050 950 1020 938L960 950L850 860L790 760L775 720Z" fill="#f7d6c2"/>
<path d="M1100 772L1210 838M1065 822L1165 878M1042 878L1100 910" fill="none" stroke-width="12"/>
<!-- right hand (tan) -->
<path d="M965 548C1010 540 1100 545 1195 552L1275 735L1250 795L1105 720L1045 642L1000 642C975 665 950 690 920 680C895 668 898 640 912 618Z" fill="#ebba93"/>
<!-- knuckles -->
<g fill="#e6bc9a" stroke-width="12">
<ellipse cx="828" cy="792" rx="42" ry="32" transform="rotate(-40 828 792)"/>
<ellipse cx="878" cy="840" rx="44" ry="32" transform="rotate(-40 878 840)"/>
<ellipse cx="928" cy="886" rx="44" ry="32" transform="rotate(-40 928 886)"/>
<ellipse cx="975" cy="922" rx="36" ry="28" transform="rotate(-40 975 922)"/>
</g>
<!-- sleeves -->
<path d="M790 480L868 522L742 748L660 702Z" fill="#73b1db"/>
<path d="M1185 502L1265 468L1388 700L1305 748Z" fill="#73b1db"/>
</g>
</g>

</svg>
</body></html>
